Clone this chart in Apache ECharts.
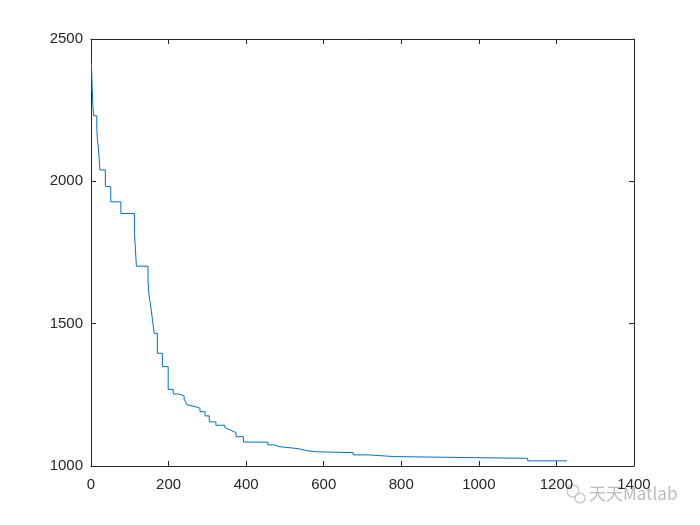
<!DOCTYPE html>
<html>
<head>
<meta charset="utf-8">
<script src="https://cdn.jsdelivr.net/npm/echarts@6/dist/echarts.min.js"></script>
<style>html,body{margin:0;padding:0;background:#fff;}#c{width:700px;height:525px;}</style>
</head>
<body>
<div id="c"></div>
<script>
// iteration at which each best value begins
var iters = [1, 3, 5, 7, 15, 17, 19, 23, 37, 51, 77, 112, 117, 147, 149, 151, 153, 158, 163, 171, 184, 199, 212, 225, 240, 244, 247, 251, 268, 281, 294, 305, 322, 345, 350, 357, 363, 374, 393, 456, 474, 485, 534, 556, 582, 676, 717, 782, 895, 1126, 1227];
var best  = [2415, 2330, 2260, 2230, 2180, 2140, 2120, 2040, 1982, 1928, 1887, 1820, 1702, 1650, 1610, 1585, 1572, 1519, 1466, 1396, 1349, 1269, 1253, 1247, 1235, 1225, 1215, 1209, 1203, 1191, 1176, 1155, 1143, 1135, 1128, 1124, 1117, 1103, 1084, 1074, 1068, 1061, 1054, 1050, 1047, 1039, 1033, 1031, 1027, 1018, 1018];
var xTicks = [0, 200, 400, 600, 800, 1000, 1200, 1400];
var yTicks = [1000, 1500, 2000, 2500];

var pts = iters.map(function (x, i) { return [x, best[i]]; });
var axColor = '#262626';
var font = '"Liberation Sans", Arial, Helvetica, sans-serif';
var fmt = function (v) { return String(v); };

var chart = echarts.init(document.getElementById('c'));
function baseX(pos, show) {
  return {
    type: 'value', position: pos, min: xTicks[0], max: xTicks[xTicks.length - 1],
    interval: xTicks[1] - xTicks[0],
    axisLine: { show: true, onZero: false, lineStyle: { color: axColor, width: 1 } },
    axisTick: { show: true, inside: true, length: 5, lineStyle: { color: axColor, width: 1 } },
    axisLabel: { show: show, color: axColor, fontSize: 15, fontFamily: font, margin: 11, formatter: fmt },
    splitLine: { show: false }
  };
}
function baseY(pos, show) {
  return {
    type: 'value', position: pos, min: yTicks[0], max: yTicks[yTicks.length - 1],
    interval: yTicks[1] - yTicks[0],
    axisLine: { show: true, onZero: false, lineStyle: { color: axColor, width: 1 } },
    axisTick: { show: true, inside: true, length: 5, lineStyle: { color: axColor, width: 1 } },
    axisLabel: { show: show, color: axColor, fontSize: 15, fontFamily: font, margin: 8, formatter: fmt },
    splitLine: { show: false }
  };
}
chart.setOption({
  animation: false,
  backgroundColor: '#fff',
  grid: { left: 91, right: 66, top: 39, bottom: 59, containLabel: false },
  xAxis: [baseX('bottom', true), baseX('top', false)],
  yAxis: [baseY('left', true), baseY('right', false)],
  series: [{
    type: 'line', step: 'end', data: pts, showSymbol: false, symbol: 'none',
    xAxisIndex: 0, yAxisIndex: 0,
    lineStyle: { color: '#0072BD', width: 1 }
  }],
  graphic: [
    { type: 'circle', shape: { cx: 573, cy: 491, r: 6 }, style: { fill: 'rgba(255,255,255,0.5)', stroke: 'rgba(170,170,170,0.7)', lineWidth: 1.2 } },
    { type: 'circle', shape: { cx: 580, cy: 498, r: 5 }, style: { fill: 'rgba(255,255,255,0.5)', stroke: 'rgba(170,170,170,0.7)', lineWidth: 1.2 } },
    { type: 'text', left: 589, top: 485, style: { text: '天天Matlab', fill: 'rgba(165,165,165,0.75)', font: '17px "Noto Sans CJK SC", "Liberation Sans", sans-serif' } }
  ]
});
</script>
</body>
</html>
